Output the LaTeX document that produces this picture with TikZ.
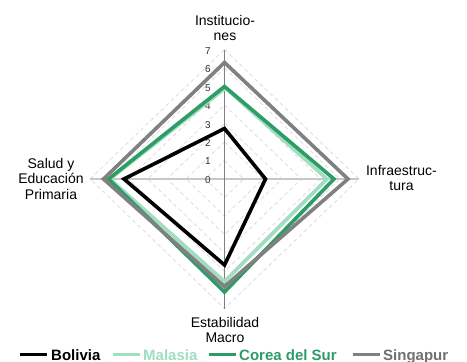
\documentclass[tikz,border=0pt]{standalone}
\usepackage{fontspec}
\setmainfont{Liberation Sans}
\definecolor{cBol}{RGB}{0,0,0}
\definecolor{cMal}{RGB}{160,222,192}
\definecolor{cCor}{RGB}{46,156,102}
\definecolor{cSin}{RGB}{128,128,128}
\definecolor{cSinT}{RGB}{112,112,112}
\definecolor{cGrid}{RGB}{217,217,217}
\begin{document}
\begin{tikzpicture}[x=1pt,y=-1pt,
  cat/.style={font=\fontsize{14}{15.5}\selectfont, align=center, inner sep=0pt, anchor=north},
  tick/.style={font=\fontsize{10}{12}\selectfont, anchor=east, inner sep=0pt, text=black!80},
  gridline/.style={draw=cGrid, dash pattern=on 4pt off 3pt, line width=0.7pt},
  series/.style={line width=3.6pt, line join=miter, miter limit=10},
  legline/.style={line width=3pt},
  legtext/.style={font=\fontsize{15}{17}\selectfont\bfseries, anchor=base west, inner sep=0pt}
]
\useasboundingbox (0,0) rectangle (467,362);
\fill[white] (0,0) rectangle (467,362);
% grid diamonds
\foreach \k in {1,...,7}{
  \draw[gridline] (224.5,{179-18.5*\k}) -- ({224.5+19.2*\k},179) -- (224.5,{179+18.5*\k}) -- ({224.5-19.2*\k},179) -- cycle;
}
% spokes
\coordinate (top) at (224.5,49.5);
\coordinate (bot) at (224.5,308.5);
\coordinate (lft) at (90,179);
\coordinate (rgt) at (359,179);
\draw[draw=black!22, line width=1.2pt] (lft) -- (rgt);
\draw[draw=black!50, line width=0.8pt] (top) -- (bot);
% tick labels
\foreach \k in {0,...,7}{
  \node[tick] (t\k) at (211,{180-18.47*\k}) {\k};
}
% series
\draw[series, cBol] (224.5,128.5) -- (265.5,179) -- (224.5,265) -- (124,179) -- cycle;
\draw[series, cMal] (225.5,88) -- (327,179) -- (224.5,281.5) -- (110,179) -- cycle;
\draw[series, cCor] (224.5,86.5) -- (334,179) -- (224.5,292) -- (108.5,179) -- cycle;
\draw[series, cSin] (224.5,62.5) -- (348,179) -- (224.5,286.5) -- (103.5,179) -- cycle;
% category labels
\node[cat] (inst) at (225,15) {Institucio-\\nes};
\node[cat] (infra) at (401.5,165) {Infraestruc-\\tura};
\node[cat] (estab) at (225,317) {Estabilidad\\Macro};
\node[cat] (salud) at (51,158) {Salud y\\Educación\\Primaria};
% legend
\coordinate (l1a) at (20,354); \coordinate (l1b) at (47,354);
\coordinate (l2a) at (113,354); \coordinate (l2b) at (140,354);
\coordinate (l3a) at (209,354); \coordinate (l3b) at (236,354);
\coordinate (l4a) at (353,354); \coordinate (l4b) at (380,354);
\draw[legline, cBol] (l1a) -- (l1b);
\draw[legline, cMal] (l2a) -- (l2b);
\draw[legline, cCor] (l3a) -- (l3b);
\draw[legline, cSin] (l4a) -- (l4b);
\node[legtext, text=cBol] (lg1) at (51,360) {Bolivia};
\node[legtext, text=cMal] (lg2) at (143,360) {Malasia};
\node[legtext, text=cCor] (lg3) at (239,360) {Corea del Sur};
\node[legtext, text=cSinT] (lg4) at (383,360) {Singapur};
\end{tikzpicture}
\end{document}
